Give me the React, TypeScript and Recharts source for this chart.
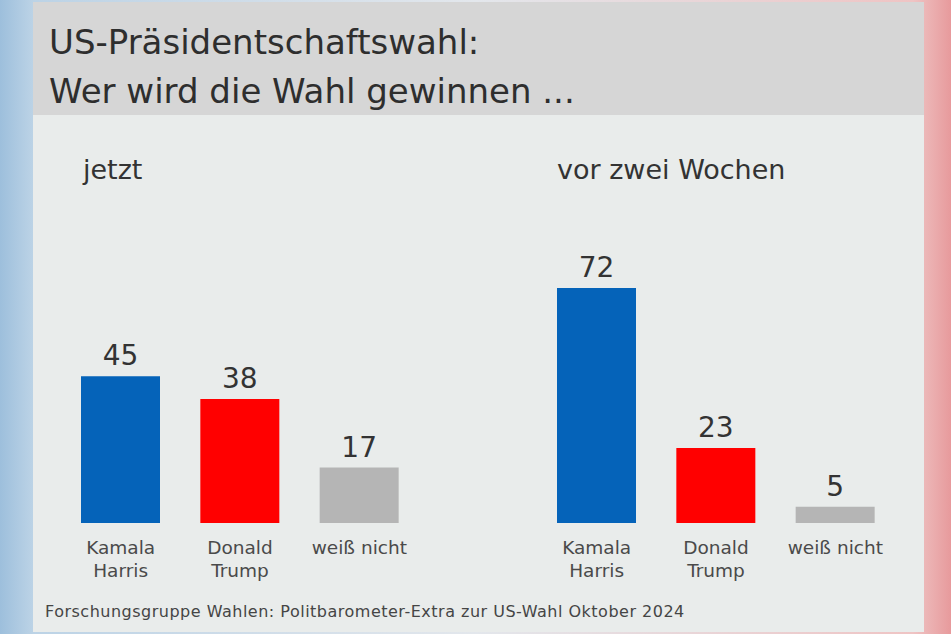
import React from 'react';
import { BarChart, Bar, XAxis, YAxis, Cell, LabelList } from 'recharts';

const categories = ['Kamala\nHarris', 'Donald\nTrump', 'weiß nicht'];
const jetzt = [45, 38, 17];
const vorZweiWochen = [72, 23, 5];
const barColors = ['#0563b9', '#ff0000', '#b5b5b5'];

const title = ['US-Präsidentschaftswahl:', 'Wer wird die Wahl gewinnen ...'];
const source = 'Forschungsgruppe Wahlen: Politbarometer-Extra zur US-Wahl Oktober 2024';

const font = '"DejaVu Sans", Verdana, sans-serif';

const CategoryTick = (props: any) => {
  const { x, y, payload } = props;
  const lines = String(payload.value).split('\n');
  return (
    <text x={x} y={y} textAnchor="middle" fill="#4a4a4a" fontSize={18.5} fontFamily={font}>
      {lines.map((l, i) => (
        <tspan key={i} x={x} dy={i === 0 ? 31 : 23}>
          {l}
        </tspan>
      ))}
    </text>
  );
};

const ValueLabel = (props: any) => {
  const { x, y, width, value } = props;
  return (
    <text x={x + width / 2} y={y - 11} textAnchor="middle" fill="#333" fontSize={28} fontFamily={font}>
      {value}
    </text>
  );
};

type PanelProps = {
  values: number[];
  left: number;
  margin: { top: number; right: number; left: number; bottom: number };
};

const Panel: React.FC<PanelProps> = ({ values, left, margin }) => {
  const data = categories.map((c, i) => ({ name: c, value: values[i] }));
  return (
    <div style={{ position: 'absolute', left, top: 200 }}>
      <BarChart width={400} height={430} data={data} margin={margin}>
        <YAxis hide domain={[0, 80]} />
        <XAxis
          dataKey="name"
          axisLine={false}
          tickLine={false}
          tickSize={0}
          tickMargin={0}
          height={60}
          interval={0}
          tick={<CategoryTick />}
        />
        <Bar dataKey="value" barSize={79} isAnimationActive={false}>
          {data.map((d, i) => (
            <Cell key={d.name} fill={barColors[i]} />
          ))}
          <LabelList dataKey="value" content={<ValueLabel />} />
        </Bar>
      </BarChart>
    </div>
  );
};

export default function App() {
  return (
    <div
      style={{
        position: 'absolute',
        left: 0,
        top: 0,
        width: 951,
        height: 634,
        overflow: 'hidden',
        fontFamily: font,
        background:
          'linear-gradient(90deg, #9dbfdc 0%, #bcd3e6 3.5%, #e3e7ec 50%, #efc4c4 96%, #e79a9c 100%)'
      }}
    >
      <div
        style={{
          position: 'absolute',
          left: 33,
          top: 2,
          width: 891,
          height: 630,
          background: '#e9eceb'
        }}
      />
      <div
        style={{
          position: 'absolute',
          left: 33,
          top: 2,
          width: 891,
          height: 113,
          background: '#d6d6d6'
        }}
      />
      {title.map((t, i) => (
        <div
          key={t}
          style={{
            position: 'absolute',
            left: 49,
            top: 22 + i * 49,
            fontSize: 34,
            lineHeight: '40px',
            color: '#2e2e2e',
            whiteSpace: 'nowrap'
          }}
        >
          {t}
        </div>
      ))}
      <div style={{ position: 'absolute', left: 83, top: 154, fontSize: 27, color: '#333', whiteSpace: 'nowrap' }}>
        jetzt
      </div>
      <div style={{ position: 'absolute', left: 557, top: 154, fontSize: 27, color: '#333', whiteSpace: 'nowrap' }}>
        vor zwei Wochen
      </div>
      <Panel values={jetzt} left={40} margin={{ top: 62, right: 21, left: 21, bottom: 47 }} />
      <Panel values={vorZweiWochen} left={520} margin={{ top: 62, right: 25, left: 17, bottom: 47 }} />
      <div
        style={{
          position: 'absolute',
          left: 45,
          top: 602,
          fontSize: 16,
          color: '#454545',
          whiteSpace: 'nowrap',
          letterSpacing: 0.5
        }}
      >
        {source}
      </div>
    </div>
  );
}
